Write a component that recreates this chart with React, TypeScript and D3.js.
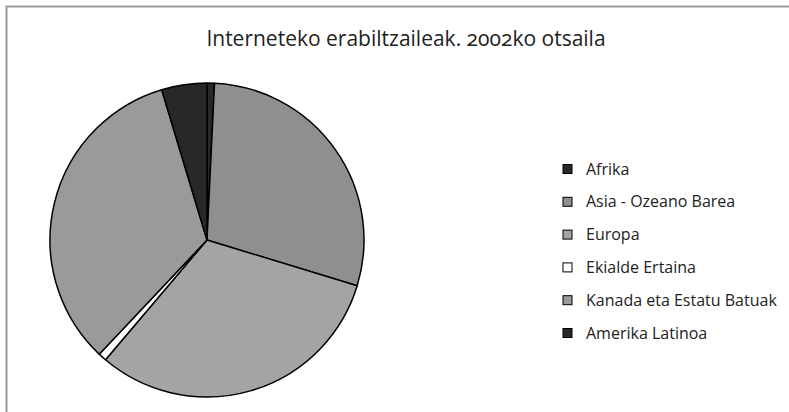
import React from "react";
import * as d3 from "d3";

const categories = ["Afrika", "Asia - Ozeano Barea", "Europa", "Ekialde Ertaina", "Kanada eta Estatu Batuak", "Amerika Latinoa"];
const values = [4.15, 157.49, 171.35, 4.65, 181.23, 25.33];
const colors = ["#282828", "#8f8f8f", "#a4a4a4", "#ffffff", "#9a9a9a", "#282828"];
const title = "Interneteko erabiltzaileak. 2002ko otsaila";

export default function App() {
  const W = 789, H = 412;
  const cx = 207, cy = 240, r = 157;
  const pie = d3.pie<number>().sort(null).value((d) => d)(values);
  const arc = d3.arc<d3.PieArcDatum<number>>().innerRadius(0).outerRadius(r);
  const legendY = d3.scalePoint<string>().domain(categories).range([169, 333]);
  return (
    <svg width={W} height={H} style={{ position: "absolute", left: 0, top: 0 }}>
      <rect x={0} y={0} width={W} height={H} fill="#fff" />
      <rect x={6.5} y={6.5} width={W + 20} height={H + 20} fill="none" stroke="#9a9a9a" strokeWidth={2} />
      <text x={406} y={46} textAnchor="middle" fontFamily="'Open Sans', sans-serif" fontSize={21} fill="#222" style={{ fontVariantNumeric: "oldstyle-nums" }}>{title}</text>
      <g transform={`translate(${cx},${cy})`}>
        {pie.map((p, i) => (
          <path key={i} d={arc(p) || ""} fill={colors[i]} stroke="#000" strokeWidth={1.5} strokeLinejoin="round" />
        ))}
      </g>
      {categories.map((c, i) => (
        <g key={c} transform={`translate(0,${legendY(c)})`}>
          <rect x={563} y={-4.5} width={9} height={9} fill={colors[i]} stroke="#000" strokeWidth={1} />
          <text x={586} y={5.5} fontFamily="'Open Sans', sans-serif" fontSize={16} fill="#222">{c}</text>
        </g>
      ))}
    </svg>
  );
}
